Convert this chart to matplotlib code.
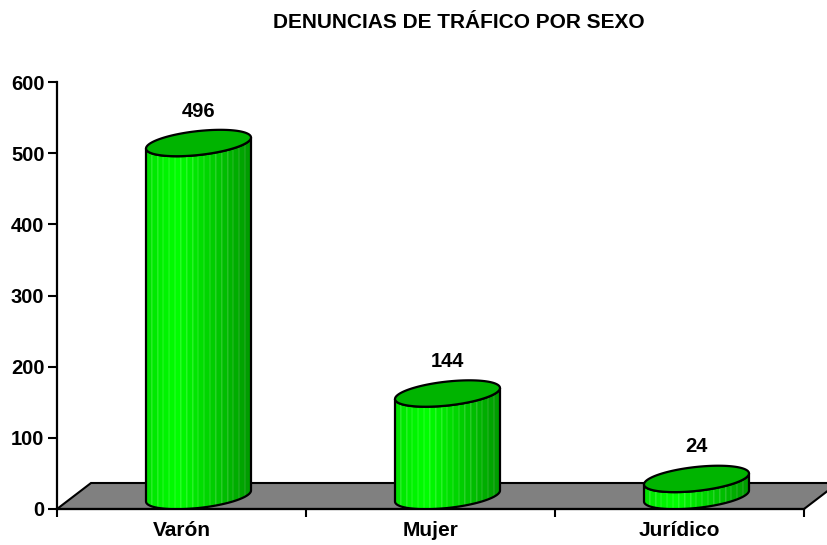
import numpy as np
import matplotlib
matplotlib.use("Agg")
import matplotlib.pyplot as plt
from matplotlib.patches import Polygon, Rectangle, PathPatch
from matplotlib.path import Path

plt.rcParams['font.family'] = ['Liberation Sans', 'DejaVu Sans']
plt.rcParams['font.weight'] = 'bold'

title = 'DENUNCIAS DE TRÁFICO POR SEXO'
categories = ['Varón', 'Mujer', 'Jurídico']
values = [496, 144, 24]
yticks = [0, 100, 200, 300, 400, 500, 600]

W, H = 828, 545
fig = plt.figure(figsize=(W / 100, H / 100), dpi=100)
# axes box in pixels: left spine x=57, floor front y=509, 600 tick at y=82
ax = fig.add_axes([57 / W, (H - 509) / H, 747 / W, 427 / H])
ax.set_xlim(0, len(categories))
ax.set_ylim(0, 600)

# pixel -> data scale
px_x = 1 / 249.0          # x units per pixel
px_y = 600 / 427.0        # y units per pixel

# floor depth (3D offset)
dx = 34 * px_x
dy = 26 * px_y

floor = Polygon([(0, 0), (3, 0), (3 + dx, dy), (dx, dy)], closed=True,
                facecolor='#808080', edgecolor='black', lw=1.5,
                clip_on=False, zorder=1)
ax.add_patch(floor)

a = 52.5 * px_x     # cylinder half width
b = 12 * px_y       # ellipse half height
k = 5.5 * px_y      # shear of ellipse (right side higher)


def ellipse_pts(cx, cy, t):
    return np.column_stack([cx + a * np.cos(t), cy + b * np.sin(t) + k * np.cos(t)])


def shade(t):
    # left -> right green gradient
    return np.interp(t, [0, 0.3, 1.0], [0.88, 1.0, 0.6])


for i, (cat, v) in enumerate(zip(categories, values)):
    cx = i + 0.5 + dx / 2
    cy0 = dy / 2
    cy1 = v + dy / 2

    tb = np.linspace(np.pi, 2 * np.pi, 60)
    bottom = ellipse_pts(cx, cy0, tb)
    top = ellipse_pts(cx, cy1, tb[::-1])
    body = np.vstack([bottom, top])
    body_path = Path(np.vstack([body, body[:1]]), closed=True)

    clip = PathPatch(body_path, facecolor='none', edgecolor='none', zorder=2)
    ax.add_patch(clip)

    n = 18
    edges = np.linspace(cx - a, cx + a, n + 1)
    for j in range(n):
        t = (j + 0.5) / n
        g = shade(t)
        r = Rectangle((edges[j], -50), edges[j + 1] - edges[j] + 0.002, cy1 + 100,
                      facecolor=(0, g, 0), edgecolor=(0.5, min(1, g + 0.1), 0.5),
                      lw=0.25, zorder=2)
        r.set_clip_path(clip)
        ax.add_patch(r)

    outline = PathPatch(body_path, facecolor='none', edgecolor='black', lw=1.6, zorder=3)
    ax.add_patch(outline)

    tt = np.linspace(0, 2 * np.pi, 120)
    cap = Polygon(ellipse_pts(cx, cy1, tt), closed=True, facecolor='#00B400',
                  edgecolor='black', lw=1.6, zorder=4)
    ax.add_patch(cap)

    ax.annotate(str(v), (cx, cy1), xytext=(0, 23), textcoords='offset points',
                ha='center', va='center', fontsize=14.5, fontweight='bold')

# axes styling
for s in ['top', 'right']:
    ax.spines[s].set_visible(False)
ax.spines['left'].set_linewidth(1.6)
ax.spines['bottom'].set_linewidth(1.6)
ax.spines['bottom'].set_zorder(5)

ax.set_yticks(yticks)
ax.set_yticklabels([str(t) for t in yticks])
ax.tick_params(axis='y', direction='out', length=6.5, width=1.5, pad=2.5,
               labelsize=14.5)
ax.set_xticks(range(len(categories) + 1))
ax.set_xticklabels([''] * (len(categories) + 1))
ax.tick_params(axis='x', which='major', direction='out', length=6, width=1.5)
ax.set_xticks(np.arange(len(categories)) + 0.5, minor=True)
ax.set_xticklabels(categories, minor=True)
ax.tick_params(axis='x', which='minor', length=0, pad=9, labelsize=15)
for lab in ax.get_yticklabels() + ax.get_xticklabels(minor=True):
    lab.set_fontweight('bold')

fig.text(459 / W, 1 - 23 / H, title, ha='center', va='center',
         fontsize=15, fontweight='bold')

fig.savefig('out.png', dpi=100)
